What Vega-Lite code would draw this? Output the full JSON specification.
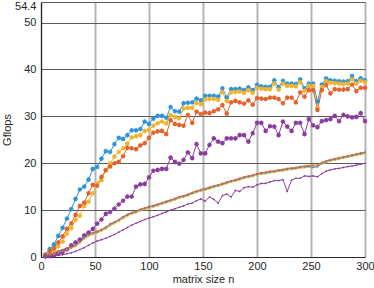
{
"$schema": "https://vega.github.io/schema/vega-lite/v6.json",
"width": 324, "height": 255,
"autosize": {"type": "none"},
"padding": {"left": 41, "top": 2, "right": 9, "bottom": 31},
"background": "white",
"config": {"view": {"stroke": "#8a8a8a", "strokeWidth": 1}, "font": "Liberation Sans"},
"data": {"values": [
{"n":4,"s":"B1","v":0.5},{"n":8,"s":"B1","v":1.7},{"n":12,"s":"B1","v":2.7},{"n":16,"s":"B1","v":4.5},{"n":20,"s":"B1","v":6.2},{"n":24,"s":"B1","v":8.2},{"n":28,"s":"B1","v":10.2},{"n":32,"s":"B1","v":12.4},{"n":36,"s":"B1","v":14.4},{"n":40,"s":"B1","v":15.0},{"n":44,"s":"B1","v":16.5},{"n":48,"s":"B1","v":18.8},{"n":52,"s":"B1","v":19.2},{"n":56,"s":"B1","v":21.0},{"n":60,"s":"B1","v":22.6},{"n":64,"s":"B1","v":22.4},{"n":68,"s":"B1","v":24.1},{"n":72,"s":"B1","v":25.4},{"n":76,"s":"B1","v":25.2},{"n":80,"s":"B1","v":26.0},{"n":84,"s":"B1","v":27.0},{"n":88,"s":"B1","v":27.0},{"n":92,"s":"B1","v":27.3},{"n":96,"s":"B1","v":28.9},{"n":100,"s":"B1","v":28.4},{"n":104,"s":"B1","v":29.5},{"n":108,"s":"B1","v":30.1},{"n":112,"s":"B1","v":30.1},{"n":116,"s":"B1","v":29.7},{"n":120,"s":"B1","v":32.0},{"n":124,"s":"B1","v":31.1},{"n":128,"s":"B1","v":31.0},{"n":132,"s":"B1","v":32.8},{"n":136,"s":"B1","v":32.9},{"n":140,"s":"B1","v":33.0},{"n":144,"s":"B1","v":33.8},{"n":148,"s":"B1","v":33.4},{"n":152,"s":"B1","v":34.4},{"n":156,"s":"B1","v":34.4},{"n":160,"s":"B1","v":34.4},{"n":164,"s":"B1","v":34.2},{"n":168,"s":"B1","v":36.0},{"n":172,"s":"B1","v":34.0},{"n":176,"s":"B1","v":35.8},{"n":180,"s":"B1","v":35.8},{"n":184,"s":"B1","v":35.9},{"n":188,"s":"B1","v":35.6},{"n":192,"s":"B1","v":36.2},{"n":196,"s":"B1","v":35.6},{"n":200,"s":"B1","v":36.7},{"n":204,"s":"B1","v":36.4},{"n":208,"s":"B1","v":36.3},{"n":212,"s":"B1","v":36.3},{"n":216,"s":"B1","v":37.7},{"n":220,"s":"B1","v":36.2},{"n":224,"s":"B1","v":37.6},{"n":228,"s":"B1","v":37.0},{"n":232,"s":"B1","v":37.0},{"n":236,"s":"B1","v":36.9},{"n":240,"s":"B1","v":37.9},{"n":244,"s":"B1","v":36.0},{"n":248,"s":"B1","v":37.0},{"n":252,"s":"B1","v":37.0},{"n":256,"s":"B1","v":33.2},{"n":260,"s":"B1","v":36.8},{"n":264,"s":"B1","v":38.1},{"n":268,"s":"B1","v":37.7},{"n":272,"s":"B1","v":37.6},{"n":276,"s":"B1","v":37.5},{"n":280,"s":"B1","v":37.4},{"n":284,"s":"B1","v":37.5},{"n":288,"s":"B1","v":38.6},{"n":292,"s":"B1","v":37.5},{"n":296,"s":"B1","v":38.1},{"n":300,"s":"B1","v":37.7},
{"n":4,"s":"Y1","v":0.3},{"n":8,"s":"Y1","v":0.7},{"n":12,"s":"Y1","v":1.4},{"n":16,"s":"Y1","v":2.3},{"n":20,"s":"Y1","v":3.3},{"n":24,"s":"Y1","v":5.0},{"n":28,"s":"Y1","v":6.2},{"n":32,"s":"Y1","v":7.9},{"n":36,"s":"Y1","v":8.8},{"n":40,"s":"Y1","v":10.9},{"n":44,"s":"Y1","v":11.8},{"n":48,"s":"Y1","v":13.6},{"n":52,"s":"Y1","v":15.7},{"n":56,"s":"Y1","v":16.4},{"n":60,"s":"Y1","v":18.6},{"n":64,"s":"Y1","v":20.0},{"n":68,"s":"Y1","v":21.4},{"n":72,"s":"Y1","v":22.4},{"n":76,"s":"Y1","v":23.2},{"n":80,"s":"Y1","v":24.2},{"n":84,"s":"Y1","v":25.5},{"n":88,"s":"Y1","v":25.8},{"n":92,"s":"Y1","v":26.0},{"n":96,"s":"Y1","v":26.9},{"n":100,"s":"Y1","v":27.1},{"n":104,"s":"Y1","v":28.0},{"n":108,"s":"Y1","v":28.5},{"n":112,"s":"Y1","v":28.9},{"n":116,"s":"Y1","v":28.5},{"n":120,"s":"Y1","v":30.3},{"n":124,"s":"Y1","v":29.9},{"n":128,"s":"Y1","v":29.6},{"n":132,"s":"Y1","v":31.7},{"n":136,"s":"Y1","v":31.8},{"n":140,"s":"Y1","v":31.8},{"n":144,"s":"Y1","v":32.9},{"n":148,"s":"Y1","v":32.6},{"n":152,"s":"Y1","v":33.6},{"n":156,"s":"Y1","v":33.7},{"n":160,"s":"Y1","v":33.7},{"n":164,"s":"Y1","v":33.5},{"n":168,"s":"Y1","v":35.2},{"n":172,"s":"Y1","v":33.3},{"n":176,"s":"Y1","v":35.1},{"n":180,"s":"Y1","v":35.2},{"n":184,"s":"Y1","v":35.3},{"n":188,"s":"Y1","v":35.0},{"n":192,"s":"Y1","v":35.6},{"n":196,"s":"Y1","v":35.0},{"n":200,"s":"Y1","v":36.1},{"n":204,"s":"Y1","v":35.9},{"n":208,"s":"Y1","v":35.8},{"n":212,"s":"Y1","v":35.8},{"n":216,"s":"Y1","v":37.0},{"n":220,"s":"Y1","v":35.7},{"n":224,"s":"Y1","v":37.0},{"n":228,"s":"Y1","v":36.5},{"n":232,"s":"Y1","v":36.5},{"n":236,"s":"Y1","v":36.4},{"n":240,"s":"Y1","v":37.3},{"n":244,"s":"Y1","v":35.5},{"n":248,"s":"Y1","v":36.5},{"n":252,"s":"Y1","v":36.5},{"n":256,"s":"Y1","v":31.9},{"n":260,"s":"Y1","v":36.3},{"n":264,"s":"Y1","v":37.5},{"n":268,"s":"Y1","v":37.2},{"n":272,"s":"Y1","v":37.1},{"n":276,"s":"Y1","v":37.0},{"n":280,"s":"Y1","v":36.9},{"n":284,"s":"Y1","v":37.0},{"n":288,"s":"Y1","v":37.9},{"n":292,"s":"Y1","v":37.0},{"n":296,"s":"Y1","v":37.6},{"n":300,"s":"Y1","v":37.3},
{"n":4,"s":"O1","v":0.4},{"n":8,"s":"O1","v":1.2},{"n":12,"s":"O1","v":1.9},{"n":16,"s":"O1","v":3.1},{"n":20,"s":"O1","v":4.4},{"n":24,"s":"O1","v":6.0},{"n":28,"s":"O1","v":7.2},{"n":32,"s":"O1","v":9.0},{"n":36,"s":"O1","v":10.9},{"n":40,"s":"O1","v":11.6},{"n":44,"s":"O1","v":13.6},{"n":48,"s":"O1","v":15.4},{"n":52,"s":"O1","v":15.2},{"n":56,"s":"O1","v":17.1},{"n":60,"s":"O1","v":18.5},{"n":64,"s":"O1","v":19.3},{"n":68,"s":"O1","v":20.0},{"n":72,"s":"O1","v":20.3},{"n":76,"s":"O1","v":21.5},{"n":80,"s":"O1","v":23.3},{"n":84,"s":"O1","v":23.2},{"n":88,"s":"O1","v":23.0},{"n":92,"s":"O1","v":23.8},{"n":96,"s":"O1","v":24.3},{"n":100,"s":"O1","v":25.4},{"n":104,"s":"O1","v":26.5},{"n":108,"s":"O1","v":26.8},{"n":112,"s":"O1","v":26.9},{"n":116,"s":"O1","v":26.2},{"n":120,"s":"O1","v":29.2},{"n":124,"s":"O1","v":28.4},{"n":128,"s":"O1","v":28.2},{"n":132,"s":"O1","v":28.0},{"n":136,"s":"O1","v":30.3},{"n":140,"s":"O1","v":28.6},{"n":144,"s":"O1","v":31.0},{"n":148,"s":"O1","v":30.5},{"n":152,"s":"O1","v":30.8},{"n":156,"s":"O1","v":30.7},{"n":160,"s":"O1","v":31.1},{"n":164,"s":"O1","v":31.5},{"n":168,"s":"O1","v":32.4},{"n":172,"s":"O1","v":30.6},{"n":176,"s":"O1","v":33.0},{"n":180,"s":"O1","v":33.3},{"n":184,"s":"O1","v":33.0},{"n":188,"s":"O1","v":32.7},{"n":192,"s":"O1","v":33.4},{"n":196,"s":"O1","v":32.5},{"n":200,"s":"O1","v":33.9},{"n":204,"s":"O1","v":33.8},{"n":208,"s":"O1","v":33.7},{"n":212,"s":"O1","v":34.0},{"n":216,"s":"O1","v":34.0},{"n":220,"s":"O1","v":33.7},{"n":224,"s":"O1","v":32.8},{"n":228,"s":"O1","v":34.0},{"n":232,"s":"O1","v":34.0},{"n":236,"s":"O1","v":33.0},{"n":240,"s":"O1","v":35.1},{"n":244,"s":"O1","v":34.2},{"n":248,"s":"O1","v":35.6},{"n":252,"s":"O1","v":35.6},{"n":256,"s":"O1","v":31.4},{"n":260,"s":"O1","v":35.6},{"n":264,"s":"O1","v":36.7},{"n":268,"s":"O1","v":34.9},{"n":272,"s":"O1","v":35.8},{"n":276,"s":"O1","v":35.7},{"n":280,"s":"O1","v":35.7},{"n":284,"s":"O1","v":35.8},{"n":288,"s":"O1","v":36.8},{"n":292,"s":"O1","v":35.4},{"n":296,"s":"O1","v":36.1},{"n":300,"s":"O1","v":36.1},
{"n":4,"s":"P1","v":0.1},{"n":8,"s":"P1","v":0.2},{"n":12,"s":"P1","v":0.4},{"n":16,"s":"P1","v":0.7},{"n":20,"s":"P1","v":1.1},{"n":24,"s":"P1","v":1.6},{"n":28,"s":"P1","v":2.5},{"n":32,"s":"P1","v":3.1},{"n":36,"s":"P1","v":3.7},{"n":40,"s":"P1","v":4.6},{"n":44,"s":"P1","v":5.2},{"n":48,"s":"P1","v":6.0},{"n":52,"s":"P1","v":7.1},{"n":56,"s":"P1","v":8.0},{"n":60,"s":"P1","v":9.2},{"n":64,"s":"P1","v":9.6},{"n":68,"s":"P1","v":10.3},{"n":72,"s":"P1","v":11.2},{"n":76,"s":"P1","v":12.0},{"n":80,"s":"P1","v":12.9},{"n":84,"s":"P1","v":12.9},{"n":88,"s":"P1","v":15.0},{"n":92,"s":"P1","v":15.5},{"n":96,"s":"P1","v":15.6},{"n":100,"s":"P1","v":17.0},{"n":104,"s":"P1","v":18.4},{"n":108,"s":"P1","v":18.6},{"n":112,"s":"P1","v":18.8},{"n":116,"s":"P1","v":18.8},{"n":120,"s":"P1","v":21.2},{"n":124,"s":"P1","v":20.3},{"n":128,"s":"P1","v":19.9},{"n":132,"s":"P1","v":20.7},{"n":136,"s":"P1","v":22.3},{"n":140,"s":"P1","v":21.1},{"n":144,"s":"P1","v":24.1},{"n":148,"s":"P1","v":22.1},{"n":152,"s":"P1","v":22.1},{"n":156,"s":"P1","v":23.9},{"n":160,"s":"P1","v":25.3},{"n":164,"s":"P1","v":24.6},{"n":168,"s":"P1","v":24.3},{"n":172,"s":"P1","v":25.3},{"n":176,"s":"P1","v":25.3},{"n":180,"s":"P1","v":25.3},{"n":184,"s":"P1","v":26.0},{"n":188,"s":"P1","v":26.0},{"n":192,"s":"P1","v":24.6},{"n":196,"s":"P1","v":26.4},{"n":200,"s":"P1","v":28.6},{"n":204,"s":"P1","v":28.6},{"n":208,"s":"P1","v":26.9},{"n":212,"s":"P1","v":27.9},{"n":216,"s":"P1","v":27.8},{"n":220,"s":"P1","v":26.0},{"n":224,"s":"P1","v":28.9},{"n":228,"s":"P1","v":27.8},{"n":232,"s":"P1","v":26.9},{"n":236,"s":"P1","v":28.6},{"n":240,"s":"P1","v":28.6},{"n":244,"s":"P1","v":26.2},{"n":248,"s":"P1","v":29.4},{"n":252,"s":"P1","v":28.1},{"n":256,"s":"P1","v":27.7},{"n":260,"s":"P1","v":29.0},{"n":264,"s":"P1","v":29.2},{"n":268,"s":"P1","v":29.4},{"n":272,"s":"P1","v":30.1},{"n":276,"s":"P1","v":29.0},{"n":280,"s":"P1","v":30.3},{"n":284,"s":"P1","v":30.0},{"n":288,"s":"P1","v":29.8},{"n":292,"s":"P1","v":29.9},{"n":296,"s":"P1","v":30.7},{"n":300,"s":"P1","v":29.0},
{"n":4,"s":"Y2","v":0.1},{"n":8,"s":"Y2","v":0.3},{"n":12,"s":"Y2","v":0.6},{"n":16,"s":"Y2","v":0.95},{"n":20,"s":"Y2","v":1.25},{"n":24,"s":"Y2","v":1.55},{"n":28,"s":"Y2","v":1.85},{"n":32,"s":"Y2","v":2.25},{"n":36,"s":"Y2","v":2.9},{"n":40,"s":"Y2","v":3.8},{"n":44,"s":"Y2","v":4.4},{"n":48,"s":"Y2","v":4.8},{"n":52,"s":"Y2","v":5.1},{"n":56,"s":"Y2","v":5.5},{"n":60,"s":"Y2","v":6.0},{"n":64,"s":"Y2","v":6.6},{"n":68,"s":"Y2","v":7.1},{"n":72,"s":"Y2","v":7.6},{"n":76,"s":"Y2","v":8.2},{"n":80,"s":"Y2","v":8.7},{"n":84,"s":"Y2","v":9.15},{"n":88,"s":"Y2","v":9.45},{"n":92,"s":"Y2","v":9.85},{"n":96,"s":"Y2","v":10.15},{"n":100,"s":"Y2","v":10.3},{"n":104,"s":"Y2","v":10.6},{"n":108,"s":"Y2","v":10.95},{"n":112,"s":"Y2","v":11.25},{"n":116,"s":"Y2","v":11.55},{"n":120,"s":"Y2","v":11.85},{"n":124,"s":"Y2","v":12.15},{"n":128,"s":"Y2","v":12.5},{"n":132,"s":"Y2","v":12.75},{"n":136,"s":"Y2","v":13.05},{"n":140,"s":"Y2","v":13.45},{"n":144,"s":"Y2","v":13.75},{"n":148,"s":"Y2","v":14.05},{"n":152,"s":"Y2","v":14.25},{"n":156,"s":"Y2","v":14.55},{"n":160,"s":"Y2","v":14.85},{"n":164,"s":"Y2","v":15.05},{"n":168,"s":"Y2","v":15.35},{"n":172,"s":"Y2","v":15.65},{"n":176,"s":"Y2","v":15.95},{"n":180,"s":"Y2","v":16.15},{"n":184,"s":"Y2","v":16.45},{"n":188,"s":"Y2","v":16.75},{"n":192,"s":"Y2","v":16.95},{"n":196,"s":"Y2","v":17.15},{"n":200,"s":"Y2","v":17.45},{"n":204,"s":"Y2","v":17.65},{"n":208,"s":"Y2","v":17.75},{"n":212,"s":"Y2","v":17.95},{"n":216,"s":"Y2","v":18.05},{"n":220,"s":"Y2","v":18.25},{"n":224,"s":"Y2","v":18.35},{"n":228,"s":"Y2","v":18.55},{"n":232,"s":"Y2","v":18.65},{"n":236,"s":"Y2","v":18.75},{"n":240,"s":"Y2","v":18.95},{"n":244,"s":"Y2","v":19.05},{"n":248,"s":"Y2","v":19.15},{"n":252,"s":"Y2","v":19.25},{"n":256,"s":"Y2","v":19.25},{"n":260,"s":"Y2","v":19.85},{"n":264,"s":"Y2","v":20.15},{"n":268,"s":"Y2","v":20.45},{"n":272,"s":"Y2","v":20.65},{"n":276,"s":"Y2","v":20.85},{"n":280,"s":"Y2","v":21.05},{"n":284,"s":"Y2","v":21.25},{"n":288,"s":"Y2","v":21.45},{"n":292,"s":"Y2","v":21.65},{"n":296,"s":"Y2","v":21.85},{"n":300,"s":"Y2","v":22.05},
{"n":4,"s":"B2","v":0.12},{"n":8,"s":"B2","v":0.4},{"n":12,"s":"B2","v":0.8},{"n":16,"s":"B2","v":1.15},{"n":20,"s":"B2","v":1.45},{"n":24,"s":"B2","v":1.75},{"n":28,"s":"B2","v":2.05},{"n":32,"s":"B2","v":2.45},{"n":36,"s":"B2","v":3.2},{"n":40,"s":"B2","v":4.1},{"n":44,"s":"B2","v":4.7},{"n":48,"s":"B2","v":5.05},{"n":52,"s":"B2","v":5.35},{"n":56,"s":"B2","v":5.75},{"n":60,"s":"B2","v":6.25},{"n":64,"s":"B2","v":6.9},{"n":68,"s":"B2","v":7.35},{"n":72,"s":"B2","v":7.85},{"n":76,"s":"B2","v":8.45},{"n":80,"s":"B2","v":8.95},{"n":84,"s":"B2","v":9.35},{"n":88,"s":"B2","v":9.65},{"n":92,"s":"B2","v":10.05},{"n":96,"s":"B2","v":10.35},{"n":100,"s":"B2","v":10.6},{"n":104,"s":"B2","v":10.85},{"n":108,"s":"B2","v":11.15},{"n":112,"s":"B2","v":11.45},{"n":116,"s":"B2","v":11.75},{"n":120,"s":"B2","v":12.05},{"n":124,"s":"B2","v":12.35},{"n":128,"s":"B2","v":12.75},{"n":132,"s":"B2","v":12.95},{"n":136,"s":"B2","v":13.25},{"n":140,"s":"B2","v":13.65},{"n":144,"s":"B2","v":13.95},{"n":148,"s":"B2","v":14.25},{"n":152,"s":"B2","v":14.45},{"n":156,"s":"B2","v":14.75},{"n":160,"s":"B2","v":15.05},{"n":164,"s":"B2","v":15.25},{"n":168,"s":"B2","v":15.55},{"n":172,"s":"B2","v":15.85},{"n":176,"s":"B2","v":16.15},{"n":180,"s":"B2","v":16.35},{"n":184,"s":"B2","v":16.65},{"n":188,"s":"B2","v":16.95},{"n":192,"s":"B2","v":17.15},{"n":196,"s":"B2","v":17.35},{"n":200,"s":"B2","v":17.65},{"n":204,"s":"B2","v":17.85},{"n":208,"s":"B2","v":17.95},{"n":212,"s":"B2","v":18.15},{"n":216,"s":"B2","v":18.25},{"n":220,"s":"B2","v":18.45},{"n":224,"s":"B2","v":18.55},{"n":228,"s":"B2","v":18.75},{"n":232,"s":"B2","v":18.85},{"n":236,"s":"B2","v":18.95},{"n":240,"s":"B2","v":19.15},{"n":244,"s":"B2","v":19.25},{"n":248,"s":"B2","v":19.35},{"n":252,"s":"B2","v":19.1},{"n":256,"s":"B2","v":19.3},{"n":260,"s":"B2","v":20.0},{"n":264,"s":"B2","v":20.35},{"n":268,"s":"B2","v":20.65},{"n":272,"s":"B2","v":20.85},{"n":276,"s":"B2","v":21.05},{"n":280,"s":"B2","v":21.25},{"n":284,"s":"B2","v":21.45},{"n":288,"s":"B2","v":21.65},{"n":292,"s":"B2","v":21.85},{"n":296,"s":"B2","v":22.05},{"n":300,"s":"B2","v":22.25},
{"n":4,"s":"O2","v":0.15},{"n":8,"s":"O2","v":0.5},{"n":12,"s":"O2","v":0.9},{"n":16,"s":"O2","v":1.3},{"n":20,"s":"O2","v":1.6},{"n":24,"s":"O2","v":1.9},{"n":28,"s":"O2","v":2.2},{"n":32,"s":"O2","v":2.6},{"n":36,"s":"O2","v":3.4},{"n":40,"s":"O2","v":4.3},{"n":44,"s":"O2","v":4.9},{"n":48,"s":"O2","v":5.2},{"n":52,"s":"O2","v":5.5},{"n":56,"s":"O2","v":5.9},{"n":60,"s":"O2","v":6.4},{"n":64,"s":"O2","v":7.1},{"n":68,"s":"O2","v":7.5},{"n":72,"s":"O2","v":8.0},{"n":76,"s":"O2","v":8.6},{"n":80,"s":"O2","v":9.1},{"n":84,"s":"O2","v":9.5},{"n":88,"s":"O2","v":9.8},{"n":92,"s":"O2","v":10.2},{"n":96,"s":"O2","v":10.5},{"n":100,"s":"O2","v":10.8},{"n":104,"s":"O2","v":11.0},{"n":108,"s":"O2","v":11.3},{"n":112,"s":"O2","v":11.6},{"n":116,"s":"O2","v":11.9},{"n":120,"s":"O2","v":12.2},{"n":124,"s":"O2","v":12.5},{"n":128,"s":"O2","v":12.9},{"n":132,"s":"O2","v":13.1},{"n":136,"s":"O2","v":13.4},{"n":140,"s":"O2","v":13.8},{"n":144,"s":"O2","v":14.1},{"n":148,"s":"O2","v":14.4},{"n":152,"s":"O2","v":14.6},{"n":156,"s":"O2","v":14.9},{"n":160,"s":"O2","v":15.2},{"n":164,"s":"O2","v":15.4},{"n":168,"s":"O2","v":15.7},{"n":172,"s":"O2","v":16.0},{"n":176,"s":"O2","v":16.3},{"n":180,"s":"O2","v":16.5},{"n":184,"s":"O2","v":16.8},{"n":188,"s":"O2","v":17.1},{"n":192,"s":"O2","v":17.3},{"n":196,"s":"O2","v":17.5},{"n":200,"s":"O2","v":17.8},{"n":204,"s":"O2","v":18.0},{"n":208,"s":"O2","v":18.1},{"n":212,"s":"O2","v":18.3},{"n":216,"s":"O2","v":18.4},{"n":220,"s":"O2","v":18.6},{"n":224,"s":"O2","v":18.7},{"n":228,"s":"O2","v":18.9},{"n":232,"s":"O2","v":19.0},{"n":236,"s":"O2","v":19.1},{"n":240,"s":"O2","v":19.3},{"n":244,"s":"O2","v":19.4},{"n":248,"s":"O2","v":19.5},{"n":252,"s":"O2","v":19.6},{"n":256,"s":"O2","v":19.6},{"n":260,"s":"O2","v":20.2},{"n":264,"s":"O2","v":20.5},{"n":268,"s":"O2","v":20.8},{"n":272,"s":"O2","v":21.0},{"n":276,"s":"O2","v":21.2},{"n":280,"s":"O2","v":21.4},{"n":284,"s":"O2","v":21.6},{"n":288,"s":"O2","v":21.8},{"n":292,"s":"O2","v":22.0},{"n":296,"s":"O2","v":22.2},{"n":300,"s":"O2","v":22.4},
{"n":4,"s":"P2","v":0.05},{"n":8,"s":"P2","v":0.1},{"n":12,"s":"P2","v":0.2},{"n":16,"s":"P2","v":0.35},{"n":20,"s":"P2","v":0.5},{"n":24,"s":"P2","v":0.7},{"n":28,"s":"P2","v":0.9},{"n":32,"s":"P2","v":1.2},{"n":36,"s":"P2","v":1.6},{"n":40,"s":"P2","v":2.0},{"n":44,"s":"P2","v":2.5},{"n":48,"s":"P2","v":3.0},{"n":52,"s":"P2","v":3.4},{"n":56,"s":"P2","v":3.7},{"n":60,"s":"P2","v":4.0},{"n":64,"s":"P2","v":4.4},{"n":68,"s":"P2","v":4.8},{"n":72,"s":"P2","v":5.3},{"n":76,"s":"P2","v":5.8},{"n":80,"s":"P2","v":6.3},{"n":84,"s":"P2","v":6.8},{"n":88,"s":"P2","v":7.2},{"n":92,"s":"P2","v":7.6},{"n":96,"s":"P2","v":8.0},{"n":100,"s":"P2","v":8.3},{"n":104,"s":"P2","v":8.6},{"n":108,"s":"P2","v":8.9},{"n":112,"s":"P2","v":9.3},{"n":116,"s":"P2","v":9.6},{"n":120,"s":"P2","v":10.0},{"n":124,"s":"P2","v":10.3},{"n":128,"s":"P2","v":10.6},{"n":132,"s":"P2","v":10.9},{"n":136,"s":"P2","v":11.3},{"n":140,"s":"P2","v":11.5},{"n":144,"s":"P2","v":12.0},{"n":148,"s":"P2","v":12.4},{"n":152,"s":"P2","v":11.9},{"n":156,"s":"P2","v":12.8},{"n":160,"s":"P2","v":12.3},{"n":164,"s":"P2","v":11.5},{"n":168,"s":"P2","v":13.1},{"n":172,"s":"P2","v":13.4},{"n":176,"s":"P2","v":12.8},{"n":180,"s":"P2","v":14.2},{"n":184,"s":"P2","v":14.0},{"n":188,"s":"P2","v":14.8},{"n":192,"s":"P2","v":15.0},{"n":196,"s":"P2","v":14.9},{"n":200,"s":"P2","v":15.4},{"n":204,"s":"P2","v":15.7},{"n":208,"s":"P2","v":15.7},{"n":212,"s":"P2","v":16.0},{"n":216,"s":"P2","v":16.3},{"n":220,"s":"P2","v":16.3},{"n":224,"s":"P2","v":16.5},{"n":228,"s":"P2","v":14.0},{"n":232,"s":"P2","v":16.4},{"n":236,"s":"P2","v":16.8},{"n":240,"s":"P2","v":16.8},{"n":244,"s":"P2","v":17.3},{"n":248,"s":"P2","v":17.2},{"n":252,"s":"P2","v":17.3},{"n":256,"s":"P2","v":17.1},{"n":260,"s":"P2","v":17.8},{"n":264,"s":"P2","v":18.3},{"n":268,"s":"P2","v":18.6},{"n":272,"s":"P2","v":18.8},{"n":276,"s":"P2","v":18.9},{"n":280,"s":"P2","v":19.1},{"n":284,"s":"P2","v":19.3},{"n":288,"s":"P2","v":19.4},{"n":292,"s":"P2","v":19.6},{"n":296,"s":"P2","v":19.8},{"n":300,"s":"P2","v":20.0}
]},
"encoding": {
  "x": {"field": "n", "type": "quantitative", "scale": {"domain": [0, 300], "nice": false},
        "axis": {"values": [0,50,100,150,200,250,300], "title": "matrix size n", "titleFontSize": 11, "titleFontWeight": "normal", "titleColor": "#262626", "titlePadding": 2,
                 "labelFontSize": 11, "labelColor": "#262626", "labelPadding": 3, "tickSize": 0, "domainColor": "#262626",
                 "grid": true, "gridColor": "#b4b4b4", "gridWidth": 2, "labelFlush": false}},
  "y": {"field": "v", "type": "quantitative", "scale": {"domain": [0, 54.4], "nice": false},
        "axis": {"values": [0,10,20,30,40,50,54.4], "labelExpr": "toString(datum.value)", "title": "Gflops", "titleFontSize": 11, "titleFontWeight": "normal", "titleColor": "#262626", "titleX": -29,
                 "labelFontSize": 11, "labelColor": "#262626", "labelPadding": 5, "tickSize": 0, "domainColor": "#262626",
                 "labelBaseline": {"condition": {"test": "datum.value > 54", "value": "top"}, "value": "middle"},
                 "labelOffset": {"condition": {"test": "datum.value > 54", "value": -2}, "value": 0},
                 "grid": true, "gridColor": "#5a5a5a", "gridWidth": 1, "labelFlush": false}},
  "color": {"field": "s", "type": "nominal", "legend": null,
            "scale": {"domain": ["B1","Y1","O1","P1","Y2","B2","O2","P2"],
                      "range": ["#2d93d8","#f2b32c","#e2622c","#8a3c9c","#f2b32c","#2d93d8","#e2622c","#8a3c9c"]}},
  "detail": {"field": "s"}
},
"layer": [
  {"mark": {"type": "line", "strokeWidth": 1}},
  {"transform": [{"filter": {"field": "s", "oneOf": ["B1","Y1","O1","P1"]}}],
   "mark": {"type": "point", "shape": "M-1,0H1M0,-1V1M-0.7,-0.7L0.7,0.7M-0.7,0.7L0.7,-0.7", "filled": false, "size": 22, "strokeWidth": 1.2, "opacity": 1}},
  {"transform": [{"filter": {"field": "s", "oneOf": ["Y2","B2","O2","P2"]}}],
   "mark": {"type": "point", "shape": "circle", "filled": true, "size": 3, "opacity": 1}}
]
}
